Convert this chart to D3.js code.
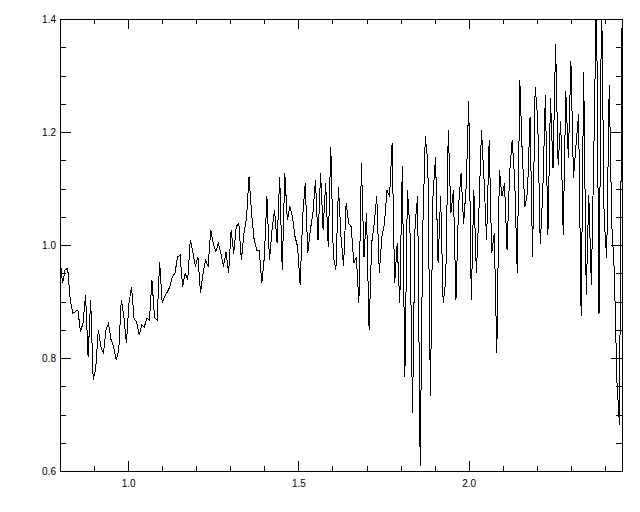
<!DOCTYPE html>
<html>
<head>
<meta charset="utf-8">
<script src="https://cdn.jsdelivr.net/npm/d3@7"></script>
<style>
  html, body { margin: 0; padding: 0; background: #fff; }
  svg { display: block; }
  text { font-family: "Liberation Sans", Arial, sans-serif; font-size: 10px; fill: #000; }
</style>
</head>
<body>
<svg id="chart" width="640" height="512"></svg>
<script>
// ---- data ----
const lambdaStart = 0.8;      // first wavelength sample
const lambdaStep = 0.0075;    // sampling step of the spectrum
const flux = [
  0.976,0.932,0.956,0.959,0.903,0.879,0.882,0.885,0.847,0.861,0.912,0.802,0.903,0.761,0.782,0.850,0.820,0.808,0.850,0.861,
  0.832,0.820,0.796,0.814,0.903,0.873,0.826,0.897,0.926,0.870,0.864,0.841,0.858,0.855,0.870,0.867,0.938,0.872,0.867,
  0.970,0.897,0.909,0.917,0.926,0.944,0.950,0.979,0.982,0.926,0.950,0.938,1.009,0.988,0.962,0.979,0.915,0.950,0.973,0.962,
  1.027,1.003,0.988,1.003,0.985,0.962,0.988,0.950,1.027,0.985,1.033,1.038,0.973,1.021,1.047,1.121,1.056,1.009,
  0.991,0.991,0.932,0.979,1.086,0.973,1.027,1.062,1.003,1.121,0.956,1.127,1.044,1.068,1.050,1.015,0.997,0.929,1.050,1.109,
  0.985,1.027,1.056,1.115,1.009,1.127,1.027,1.109,0.997,1.174,0.979,0.956,1.103,1.015,0.962,1.074,1.038,
  1.032,0.968,0.979,0.897,1.145,0.979,1.056,0.850,1.003,1.038,1.086,0.950,1.015,1.038,1.097,1.086,1.180,0.932,1.003,0.897,
  1.139,0.767,1.097,1.027,0.702,1.038,1.086,0.608,1.027,1.192,1.145,0.732,1.086,1.156,0.968,1.086,0.897,
  0.938,1.204,1.056,1.097,0.903,1.068,1.127,1.038,1.103,1.254,0.903,1.097,0.950,1.062,1.204,1.115,1.009,1.186,0.985,1.021,
  0.808,1.133,1.086,1.109,0.991,1.127,1.186,1.115,0.950,1.292,1.156,1.068,1.092,1.227,0.979,1.280,
  1.225,1.001,1.095,1.266,1.018,1.260,1.136,1.355,1.142,1.219,1.018,1.272,1.154,1.325,1.119,1.178,1.231,0.875,1.307,0.912,
  1.089,0.930,1.172,1.45,0.877,1.45,1.048,0.977,1.284,1.036,0.953,0.759,0.682,1.384
];
const xMajorTicks = [1.0, 1.5, 2.0];
const xMinorTicks = [0.9, 1.1, 1.2, 1.3, 1.4, 1.6, 1.7, 1.8, 1.9, 2.1, 2.2, 2.3, 2.4];
const yMajorTicks = [0.6, 0.8, 1.0, 1.2, 1.4];
const yMinorTicks = [0.65, 0.7, 0.75, 0.85, 0.9, 0.95, 1.05, 1.1, 1.15, 1.25, 1.3, 1.35];
const xDomain = [0.8, 2.45];
const yDomain = [0.6, 1.4];

// ---- layout ----
const margin = { left: 60, right: 18, top: 19, bottom: 41 };
const W = 640, H = 512;
const svg = d3.select("#chart");
const x = d3.scaleLinear().domain(xDomain).range([margin.left, W - margin.right]);
const y = d3.scaleLinear().domain(yDomain).range([H - margin.bottom, margin.top]);

const points = flux.map((v, i) => ({ w: lambdaStart + i * lambdaStep, v }));

svg.append("defs").append("clipPath").attr("id", "clip")
  .append("rect")
  .attr("x", x.range()[0]).attr("y", y.range()[1])
  .attr("width", x.range()[1] - x.range()[0])
  .attr("height", y.range()[0] - y.range()[1]);

const line = d3.line().x(d => x(d.w)).y(d => y(d.v));
svg.append("path")
  .datum(points)
  .attr("clip-path", "url(#clip)")
  .attr("d", line)
  .attr("fill", "none")
  .attr("stroke", "#000")
  .attr("stroke-width", 1)
  .attr("shape-rendering", "crispEdges");

function styleAxis(g) {
  g.select(".domain").remove();
  g.selectAll("line").attr("stroke", "#000").attr("shape-rendering", "crispEdges");
}

const bottomY = y.range()[0], topY = y.range()[1];
const leftX = x.range()[0], rightX = x.range()[1];

// bottom
svg.append("g").attr("transform", `translate(0,${bottomY})`)
  .call(d3.axisBottom(x).tickValues(xMajorTicks).tickSize(-10).tickPadding(9).tickFormat(d3.format(".1f")))
  .call(styleAxis)
  .call(g => g.selectAll("text").attr("font-family", null).attr("font-size", null));
svg.append("g").attr("transform", `translate(0,${bottomY})`)
  .call(d3.axisBottom(x).tickValues(xMinorTicks).tickSize(-5).tickFormat(""))
  .call(styleAxis);
// top
svg.append("g").attr("transform", `translate(0,${topY})`)
  .call(d3.axisTop(x).tickValues(xMajorTicks).tickSize(-10).tickFormat(""))
  .call(styleAxis);
svg.append("g").attr("transform", `translate(0,${topY})`)
  .call(d3.axisTop(x).tickValues(xMinorTicks).tickSize(-5).tickFormat(""))
  .call(styleAxis);
// left
svg.append("g").attr("transform", `translate(${leftX},0)`)
  .call(d3.axisLeft(y).tickValues(yMajorTicks).tickSize(-11).tickPadding(4).tickFormat(d3.format(".1f")))
  .call(styleAxis)
  .call(g => g.selectAll("text").attr("font-family", null).attr("font-size", null));
svg.append("g").attr("transform", `translate(${leftX},0)`)
  .call(d3.axisLeft(y).tickValues(yMinorTicks).tickSize(-6).tickFormat(""))
  .call(styleAxis);
// right
svg.append("g").attr("transform", `translate(${rightX},0)`)
  .call(d3.axisRight(y).tickValues(yMajorTicks).tickSize(-11).tickFormat(""))
  .call(styleAxis);
svg.append("g").attr("transform", `translate(${rightX},0)`)
  .call(d3.axisRight(y).tickValues(yMinorTicks).tickSize(-6).tickFormat(""))
  .call(styleAxis);

// frame
svg.append("rect")
  .attr("x", leftX + 0.5).attr("y", topY + 0.5)
  .attr("width", rightX - leftX).attr("height", bottomY - topY)
  .attr("fill", "none").attr("stroke", "#000").attr("stroke-width", 1)
  .attr("shape-rendering", "crispEdges");
</script>
</body>
</html>
